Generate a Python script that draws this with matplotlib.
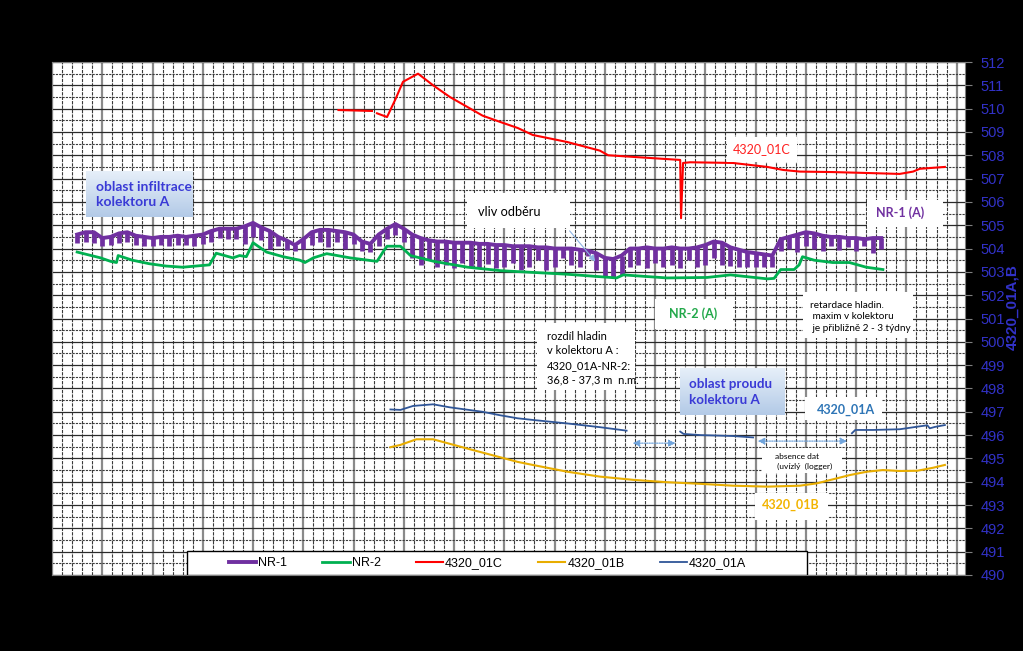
import numpy as np
import matplotlib.pyplot as plt
from matplotlib.patches import Rectangle
from matplotlib.colors import LinearSegmentedColormap

plt.rcParams['font.family'] = ['Liberation Sans', 'DejaVu Sans']

# NR-1, read every 5 days: upper level and the low point of the drawdown spikes
nr1_day = np.arange(15, 500, 5)
nr1_top = [504.6, 504.7, 504.7, 504.45, 504.5, 504.65, 504.7, 504.55, 504.5, 504.45,
           504.5, 504.5, 504.55, 504.5, 504.55, 504.6, 504.75, 504.85, 504.85, 504.85,
           504.95, 505.1, 504.9, 504.75, 504.5, 504.35, 504.15, 504.4, 504.7, 504.8,
           504.8, 504.75, 504.7, 504.6, 504.3, 504.2, 504.6, 504.85, 505.05, 504.85,
           504.6, 504.45, 504.35, 504.3, 504.3, 504.25, 504.25, 504.25, 504.2, 504.2,
           504.15, 504.15, 504.1, 504.1, 504.1, 504.05, 504.05, 504.0, 504.0, 504.0,
           503.95, 503.9, 503.8, 503.6, 503.55, 503.7, 504.0, 504.0, 504.05, 504.0,
           504.0, 504.05, 504.0, 504.0, 504.05, 504.15, 504.3, 504.25, 504.05, 503.95,
           503.85, 503.8, 503.75, 503.7, 504.4, 504.5, 504.6, 504.7, 504.65, 504.55,
           504.5, 504.5, 504.45, 504.45, 504.4, 504.45, 504.45]
nr1_low = [504.25, 504.3, 504.25, 504.1, 504.15, 504.25, 504.3, 504.15, 504.1, 504.1,
           504.15, 504.1, 504.15, 504.15, 504.1, 504.2, 504.3, 504.45, 504.4, 504.4,
           504.2, 504.5, 504.35, 504.0, 504.1, 503.95, 503.9, 504.0, 504.15, 504.3,
           504.05, 504.3, 504.0, 504.2, 503.9, 503.85, 504.1, 504.4, 504.6, 504.3,
           503.6, 503.3, 503.5, 503.2, 503.3, 503.15, 503.4, 503.2, 503.15, 503.35,
           503.15, 503.2, 503.4, 503.1, 503.2, 503.5, 503.1, 503.2, 503.6, 503.3,
           503.2, 503.7, 503.1, 502.8, 502.8, 502.85, 503.2, 503.3, 503.15, 503.4,
           503.2, 503.3, 503.15, 503.5, 503.2, 503.3, 503.6, 503.3, 503.25, 503.2,
           503.2, 503.2, 503.2, 503.2, 503.9, 504.0, 503.85, 504.1, 504.0, 503.9,
           504.1, 503.95, 504.05, 503.9, 504.1, 503.8, 504.0]

nr2_day = [15, 29, 35, 38.5, 39.5, 48, 58, 68, 78, 94, 98, 108, 112, 116, 120, 128,
           138, 148, 151, 156, 164, 178, 194, 198, 200, 208, 214, 228, 248, 268, 307,
           337, 341, 367, 391, 405, 427, 431, 435, 443, 446, 448, 455, 466, 476, 486, 496]
nr2_val = [503.85, 503.6, 503.45, 503.4, 503.7, 503.5, 503.35, 503.25, 503.2, 503.3,
           503.8, 503.6, 503.7, 503.65, 504.25, 503.85, 503.65, 503.5, 503.4, 503.6,
           503.78, 503.6, 503.45, 503.9, 504.1, 504.1, 503.7, 503.45, 503.2, 503.05,
           502.9, 502.74, 502.87, 502.74, 502.76, 502.87, 502.7, 502.72, 503.1, 503.1,
           503.3, 503.65, 503.5, 503.4, 503.4, 503.2, 503.1]

c_day = [171, 191, np.nan, 194, 200, 205, 209.5, 218.5, 227.5, 237.5, 248, 257, 267.5,
         278, 287, 307.5, 327, 332, 375, 375.5, 376.7, 381, 406.5, 427, 436.5, 446.5,
         466, 486.5, 506, 514, 518, 533]
c_val = [509.94, 509.9, np.nan, 509.8, 509.64, 510.4, 511.15, 511.5, 511.0, 510.5,
         510.07, 509.7, 509.43, 509.17, 508.87, 508.57, 508.2, 508.0, 507.8, 505.3,
         507.67, 507.7, 507.67, 507.5, 507.37, 507.3, 507.28, 507.24, 507.2, 507.3,
         507.42, 507.5]

b_day = [202, 208, 217.5, 227.5, 247.5, 267.5, 278, 287, 307.5, 327, 347, 367, 387,
         406.5, 427, 446.5, 456.5, 466, 476.5, 486.5, 496, 506, 516.5, 526, 533]
b_val = [495.48, 495.58, 495.82, 495.82, 495.43, 495.05, 494.85, 494.72, 494.43, 494.22,
         494.08, 493.98, 493.91, 493.83, 493.79, 493.83, 493.93, 494.1, 494.29, 494.43,
         494.5, 494.46, 494.47, 494.6, 494.72]

a_day = [202, 208, 215.5, 227.5, 237.5, 257, 267.5, 278, 287, 307.5, 327, 343, np.nan,
         375, 377, 387, 406.5, 418.5, np.nan, 477.5, 479.5, 490, 506, 516.5, 522.5, 524,
         527, 533]
a_val = [497.1, 497.08, 497.25, 497.32, 497.19, 497.0, 496.85, 496.72, 496.65, 496.5,
         496.34, 496.19, np.nan, 496.15, 496.05, 496.0, 495.96, 495.9, np.nan, 496.08,
         496.22, 496.22, 496.25, 496.36, 496.42, 496.29, 496.35, 496.43]

fig = plt.figure(figsize=(10.23, 6.51), dpi=100, facecolor='black')
ax = fig.add_axes([52/1023, 76/651, 913/1023, 513/651])
ax.set_facecolor('white')

# grid like the excel sheet
ax.set_xticks(np.arange(0, 546, 30))
ax.set_xticks(np.arange(0, 546, 6), minor=True)
ax.set_yticks(np.arange(490, 513, 1))
ax.set_yticks(np.arange(490.5, 512, 1), minor=True)
ax.grid(which='major', axis='x', color='#8a8a8a', lw=1.6)
ax.grid(which='minor', axis='x', color='#3a3a3a', lw=0.8, ls=(0, (3, 1)))
ax.grid(which='major', axis='y', color='#2a2a2a', lw=0.9)
ax.grid(which='minor', axis='y', color='#3a3a3a', lw=0.8, ls=(0, (2, 1)))
ax.set_axisbelow(True)

purple = '#7030a0'
ax.vlines(nr1_day, nr1_low, nr1_top, color=purple, lw=3.4, zorder=3)
ax.plot(nr1_day, nr1_top, color=purple, lw=2.8, zorder=3, label='NR-1')
ax.plot(nr2_day, nr2_val, color='#00b050', lw=2.0, zorder=3, label='NR-2')
ax.plot(c_day, c_val, color='#ff0000', lw=1.5, zorder=3, label='4320_01C')
ax.plot(b_day, b_val, color='#e8ad00', lw=1.5, zorder=3, label='4320_01B')
ax.plot(a_day, a_val, color='#2f5597', lw=1.3, zorder=3, label='4320_01A')

ax.set_xlim(0, 545)
ax.set_ylim(490, 512)

ax.yaxis.tick_right()
ax.yaxis.set_label_position('right')
ax.tick_params(axis='y', which='major', direction='out', length=5, color='#808080',
               labelcolor='#3232c8', labelsize=10.5, pad=6)
ax.tick_params(axis='y', which='minor', length=0)
ax.tick_params(axis='x', which='both', length=0, labelbottom=False)
ax.set_ylabel('4320_01A,B', color='#3232c8', fontsize=11, fontweight='bold')
ax.yaxis.set_label_coords(1.0445, 0.522)
for s in ax.spines.values():
    s.set_color('#808080')


def box(x0, y0, x1, y1, ec='none'):
    ax.add_patch(Rectangle((x0, y0), x1 - x0, y1 - y0, transform=ax.transAxes,
                           fc='white', ec=ec, lw=1.0, zorder=4))


cm = LinearSegmentedColormap.from_list('bx', ['#e6eff9', '#b3cae7'])
grad = np.linspace(0, 1, 64).reshape(-1, 1)


def gbox(x0, y0, x1, y1):
    ax.imshow(grad, cmap=cm, extent=(x0, x1, y0, y1), transform=ax.transAxes,
              aspect='auto', zorder=4)


calibri = ['Lato', 'DejaVu Sans']

gbox(0.037, 0.698, 0.154, 0.786)
ax.text(0.048, 0.742, 'oblast infiltrace\nkolektoru A', transform=ax.transAxes,
        color='#3a3ad6', fontsize=10, fontweight='bold', family=calibri,
        va='center', ha='left', linespacing=1.35, zorder=5)

gbox(0.688, 0.312, 0.803, 0.402)
ax.text(0.698, 0.357, 'oblast proudu\nkolektoru A', transform=ax.transAxes,
        color='#3a3ad6', fontsize=9.6, fontweight='bold', family=calibri,
        va='center', ha='left', linespacing=1.4, zorder=5)

box(0.454, 0.676, 0.567, 0.745)
ax.text(0.467, 0.708, 'vliv odběru', transform=ax.transAxes, fontsize=9.2,
        family=calibri, va='center', ha='left', zorder=5)
ax.annotate('', xy=(0.597, 0.607), xytext=(0.565, 0.675), xycoords='axes fraction',
            arrowprops=dict(arrowstyle='-|>', color='#8eb4e3', lw=0.8, mutation_scale=9),
            zorder=5)

box(0.739, 0.805, 0.816, 0.854)
ax.text(0.777, 0.83, '4320_01C', transform=ax.transAxes, fontsize=9, color='#ff2020',
        family=calibri, va='center', ha='center', zorder=5)

box(0.893, 0.678, 0.976, 0.731)
ax.text(0.929, 0.706, 'NR-1 (A)', transform=ax.transAxes, fontsize=9, color=purple,
        fontweight='bold', family=calibri, va='center', ha='center', zorder=5)

box(0.660, 0.479, 0.746, 0.538)
ax.text(0.702, 0.51, 'NR-2 (A)', transform=ax.transAxes, fontsize=9, color='#22a84a',
        fontweight='bold', family=calibri, va='center', ha='center', zorder=5)

box(0.823, 0.462, 0.943, 0.552)
ax.text(0.830, 0.503, 'retardace hladin.\n maxim v kolektoru\n je přibližně 2 - 3 týdny',
        transform=ax.transAxes, fontsize=7.2, family=calibri, va='center', ha='left',
        linespacing=1.4, zorder=5)

box(0.531, 0.361, 0.639, 0.491)
ax.text(0.542, 0.423, 'rozdíl hladin\nv kolektoru A :\n4320_01A-NR-2:\n36,8 - 37,3 m  n.m.',
        transform=ax.transAxes, fontsize=8, family=calibri, va='center', ha='left',
        linespacing=1.4, zorder=5)

box(0.825, 0.302, 0.909, 0.347)
ax.text(0.870, 0.322, '4320_01A', transform=ax.transAxes, fontsize=9, color='#2e75b6',
        fontweight='bold', family=calibri, va='center', ha='center', zorder=5)

box(0.778, 0.199, 0.865, 0.248)
ax.text(0.792, 0.222, 'absence dat\n (uvízlý  (logger)', transform=ax.transAxes,
        fontsize=6, family=calibri, va='center', ha='left', linespacing=1.5, zorder=5)

box(0.770, 0.107, 0.850, 0.160)
ax.text(0.809, 0.136, '4320_01B', transform=ax.transAxes, fontsize=9, color='#f2b400',
        fontweight='bold', family=calibri, va='center', ha='center', zorder=5)

for x0, x1, yy in [(0.633, 0.686, 0.257), (0.770, 0.874, 0.261)]:
    ax.annotate('', xy=(x1, yy), xytext=(x0, yy), xycoords='axes fraction',
                arrowprops=dict(arrowstyle='<|-|>', color='#6fa3db', lw=0.9,
                                mutation_scale=10, ls=(0, (1, 1))), zorder=5)

# legend frame drawn as its own box, entries centred inside
box(0.148, 0.0, 0.827, 0.047, ec='black')
leg = ax.legend(loc='center', bbox_to_anchor=(0.477, 0.0234), ncol=5, fontsize=9,
                frameon=False, handlelength=2.2, handletextpad=0.15, columnspacing=2.8,
                borderaxespad=0)
leg.set_zorder(6)

fig.savefig('out.png', dpi=100, facecolor='black')
